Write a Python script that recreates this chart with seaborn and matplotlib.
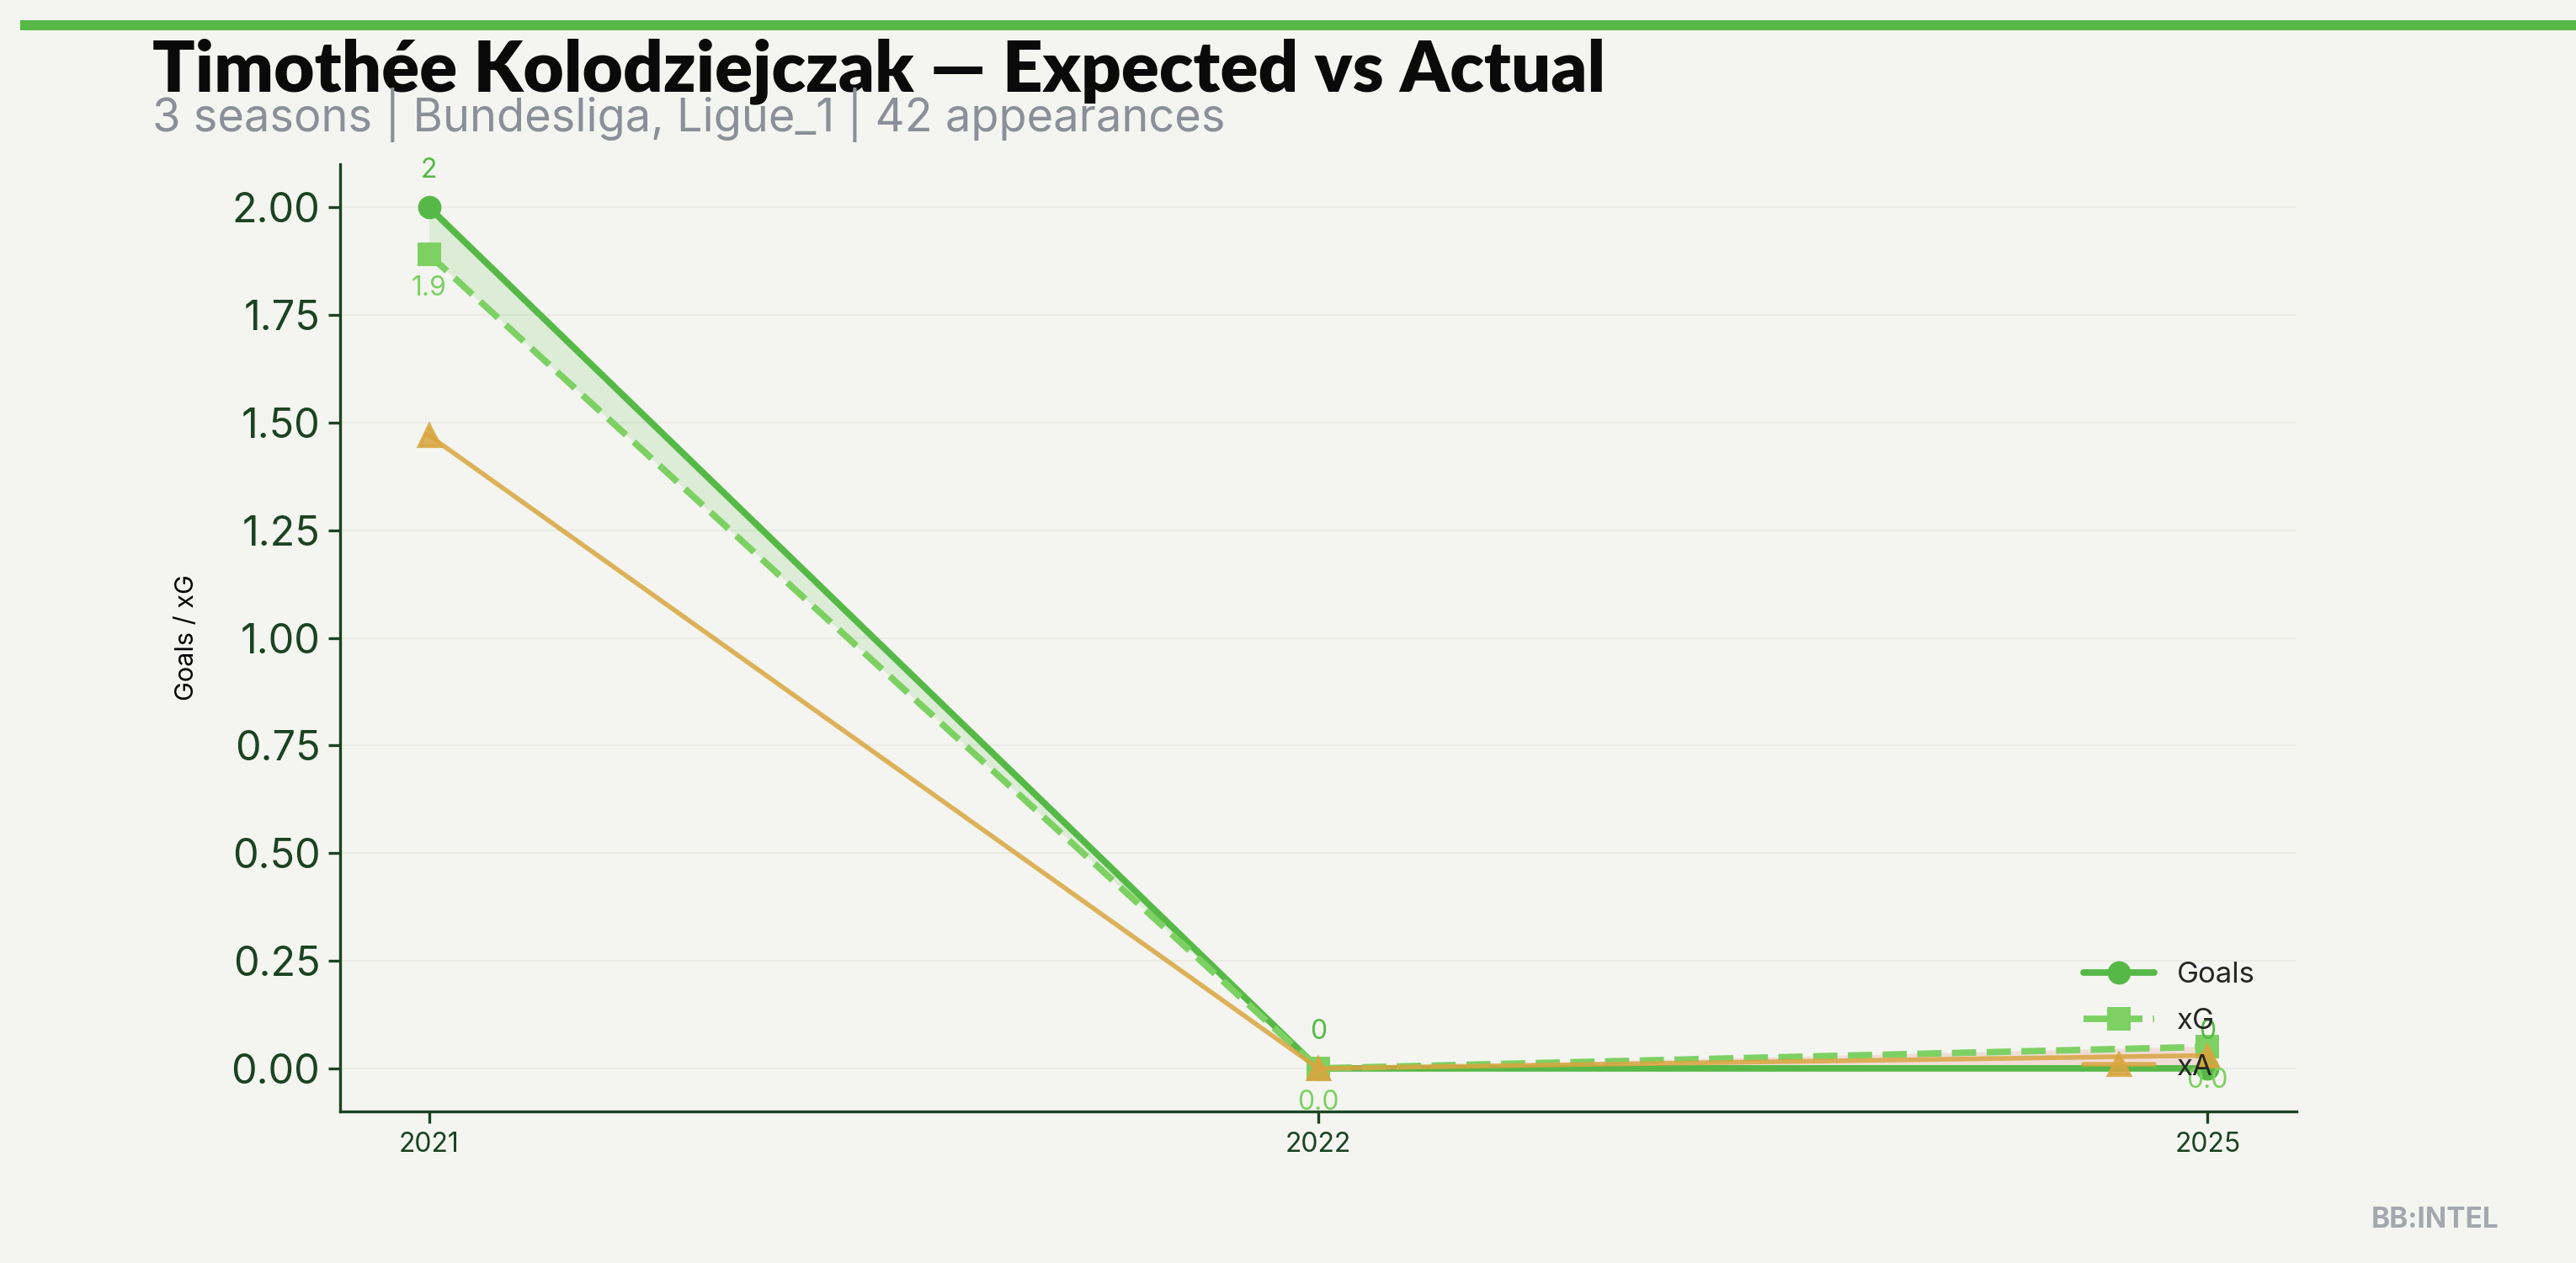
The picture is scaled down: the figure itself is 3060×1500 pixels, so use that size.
import pandas as pd
import seaborn as sns
import matplotlib.pyplot as plt
from matplotlib.patches import Rectangle

# Data
seasons = ["2021", "2022", "2025"]
goals = [2, 0, 0]
xg = [1.89, 0.0, 0.05]
xa = [1.47, 0.0, 0.03]
goal_labels = ["2", "0", "0"]
xg_labels = ["1.9", "0.0", "0.0"]

BG = "#f4f5f0"
GOALS_C = "#56b947"
XG_C = "#7dd163"
XA_C = "#d9a53f"
AXIS_C = "#1b4322"

sns.set_theme(style="white")
plt.rcParams["font.family"] = ["Inter", "DejaVu Sans"]

df = pd.DataFrame({"season": seasons, "goals": goals, "xg": xg, "xa": xa})

fig = plt.figure(figsize=(15.3, 7.5), dpi=200, facecolor=BG)
ax = fig.add_axes([0.132, 0.12, 0.7595, 0.75])
ax.set_facecolor(BG)

sns.lineplot(data=df, x="season", y="goals", ax=ax, color=GOALS_C, lw=2.8,
             marker="o", markersize=10, markeredgewidth=0, label="Goals", sort=False)
sns.lineplot(data=df, x="season", y="xg", ax=ax, color=XG_C, lw=2.8, linestyle="--",
             marker="s", markersize=10, markeredgewidth=0, label="xG", sort=False)
sns.lineplot(data=df, x="season", y="xa", ax=ax, color=XA_C, lw=2, alpha=0.85,
             marker="^", markersize=9, markeredgewidth=1.5, markeredgecolor=XA_C,
             label="xA", sort=False)

pos = list(range(len(seasons)))
ax.fill_between(pos, goals, xg, where=[g >= x for g, x in zip(goals, xg)],
                interpolate=True, color=GOALS_C, alpha=0.15, lw=0)
ax.fill_between(pos, goals, xg, where=[g < x for g, x in zip(goals, xg)],
                interpolate=True, color="#e05050", alpha=0.15, lw=0)

for i in pos:
    ax.annotate(goal_labels[i], (i, goals[i]), xytext=(0, 10), textcoords="offset points",
                ha="center", va="bottom", color=GOALS_C, fontsize=11.5)
    ax.annotate(xg_labels[i], (i, xg[i]), xytext=(0, -9), textcoords="offset points",
                ha="center", va="top", color=XG_C, fontsize=11.5)

ax.set_xlim(-0.1, 2.1)
ax.set_ylim(-0.1, 2.1)
ax.set_yticks([0, 0.25, 0.5, 0.75, 1.0, 1.25, 1.5, 1.75, 2.0])
ax.yaxis.set_major_formatter(plt.FormatStrFormatter("%.2f"))
ax.grid(axis="y", color="#ebece6", lw=0.8)
ax.set_xlabel("")
ax.set_ylabel("Goals / xG", fontsize=11, color="black", labelpad=14)

for side in ["top", "right"]:
    ax.spines[side].set_visible(False)
for side in ["left", "bottom"]:
    ax.spines[side].set_color(AXIS_C)
    ax.spines[side].set_linewidth(1.2)
ax.tick_params(axis="y", labelsize=17.5, colors=AXIS_C, length=5, width=1.2, left=True)
ax.tick_params(axis="x", labelsize=11.5, colors=AXIS_C, length=5, width=1.2, bottom=True)

leg = ax.legend(loc="lower right", frameon=False, fontsize=12.5, borderaxespad=0,
                bbox_to_anchor=(0.985, 0.02), handlelength=2.4, labelspacing=0.65)

# Header
fig.add_artist(Rectangle((0.008, 0.976), 0.992, 0.008, transform=fig.transFigure,
                         color=GOALS_C, lw=0))
fig.text(0.059, 0.928, "Timothée Kolodziejczak — Expected vs Actual", fontsize=30,
         fontweight="heavy", family=["Lato", "DejaVu Sans"], color="#0a0a0a", va="baseline")
fig.text(0.059, 0.896, "3 seasons | Bundesliga, Ligue_1 | 42 appearances", fontsize=19.5,
         color="#8a8f98", va="baseline")
fig.text(0.97, 0.028, "BB:INTEL", fontsize=12, fontweight="bold", color="#a4a8ae",
         ha="right", va="baseline")

fig.savefig("out.png", dpi=200, facecolor=BG)
